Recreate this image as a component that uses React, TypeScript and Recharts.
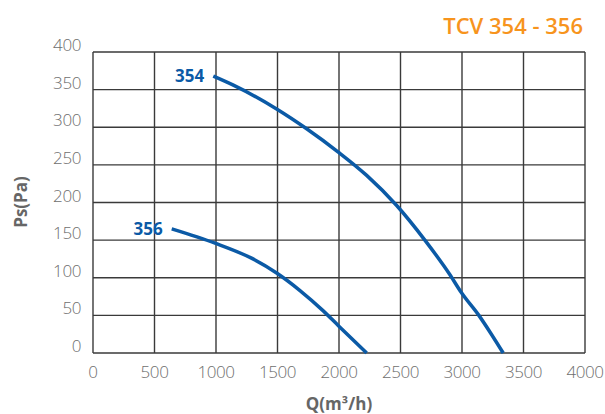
import React from "react";
import { LineChart, Line, XAxis, YAxis, CartesianGrid } from "recharts";

const xTicks = [0, 500, 1000, 1500, 2000, 2500, 3000, 3500, 4000];
const yTicks = [0, 50, 100, 150, 200, 250, 300, 350, 400];

const q354 = [978, 1141, 1496, 1737, 1994, 2225, 2469, 2698, 2902, 2996, 3137, 3231, 3335];
const ps354 = [368, 356, 324, 298, 267, 236, 196, 150, 104, 80, 50, 27, 0];

const q356 = [640, 992, 1276, 1496, 1683, 1872, 1997, 2225];
const ps356 = [165, 146, 127, 106, 83, 56, 36, 0];

const seriesNames = ["354", "356"];

const data354 = q354.map((q, i) => ({ q, ps: ps354[i] }));
const data356 = q356.map((q, i) => ({ q, ps: ps356[i] }));

const BLUE = "#0b5aa6";
const GRID = "#3a3a3a";
const TICK = "#6e6e6e";
const FONT = "'Open Sans', 'Noto Sans', sans-serif";

const XTick = (props: any) => {
  const { x, y, payload } = props;
  return (
    <text x={x} y={y + 17} textAnchor="middle" fill={TICK} fontSize={17} fontFamily={FONT} fontWeight={300} letterSpacing={-0.4}>
      {payload.value}
    </text>
  );
};

const YTick = (props: any) => {
  const { y, payload } = props;
  return (
    <text x={81} y={y - 1} textAnchor="end" fill={TICK} fontSize={17} fontFamily={FONT} fontWeight={300} letterSpacing={-0.4}>
      {payload.value}
    </text>
  );
};

const makeLabel = (name: string) => (props: any) => {
  const { x, y, index } = props;
  if (index !== 0) return null;
  return (
    <text x={x - 9} y={y + 6} textAnchor="end" fill={BLUE} fontSize={17} fontWeight={700} fontFamily={FONT}>
      {name}
    </text>
  );
};

export default function App() {
  return (
    <div style={{ position: "absolute", left: 0, top: 0, width: 605, height: 414, background: "#fff" }}>
      <LineChart width={605} height={414} margin={{ top: 52, right: 20, bottom: 11, left: 0 }}>
        <CartesianGrid stroke={GRID} strokeWidth={1.4} horizontalValues={yTicks} verticalValues={xTicks} />
        <XAxis
          type="number"
          dataKey="q"
          domain={[0, 4000]}
          ticks={xTicks}
          tick={<XTick />}
          tickLine={false}
          axisLine={false}
          height={50}
          interval={0}
          allowDataOverflow
        />
        <YAxis
          type="number"
          dataKey="ps"
          domain={[0, 400]}
          ticks={yTicks}
          tick={<YTick />}
          tickLine={false}
          axisLine={false}
          width={93}
          interval={0}
        />
        <Line
          data={data354}
          dataKey="ps"
          type="monotone"
          stroke={BLUE}
          strokeWidth={3.5}
          dot={false}
          isAnimationActive={false}
          label={makeLabel(seriesNames[0])}
        />
        <Line
          data={data356}
          dataKey="ps"
          type="monotone"
          stroke={BLUE}
          strokeWidth={3.5}
          dot={false}
          isAnimationActive={false}
          label={makeLabel(seriesNames[1])}
        />
        <text x={583} y={34} textAnchor="end" fill="#f7941d" fontSize={22} fontWeight={600} fontFamily={FONT}>
          TCV 354 - 356
        </text>
        <text
          x={0}
          y={0}
          transform="translate(27,202) rotate(-90)"
          textAnchor="middle"
          fill="#666"
          fontSize={17}
          fontWeight={700}
          fontFamily={FONT}
        >
          Ps(Pa)
        </text>
        <text x={339} y={410} textAnchor="middle" fill="#666" fontSize={17} fontWeight={700} fontFamily={FONT}>
          Q(m³/h)
        </text>
      </LineChart>
    </div>
  );
}
